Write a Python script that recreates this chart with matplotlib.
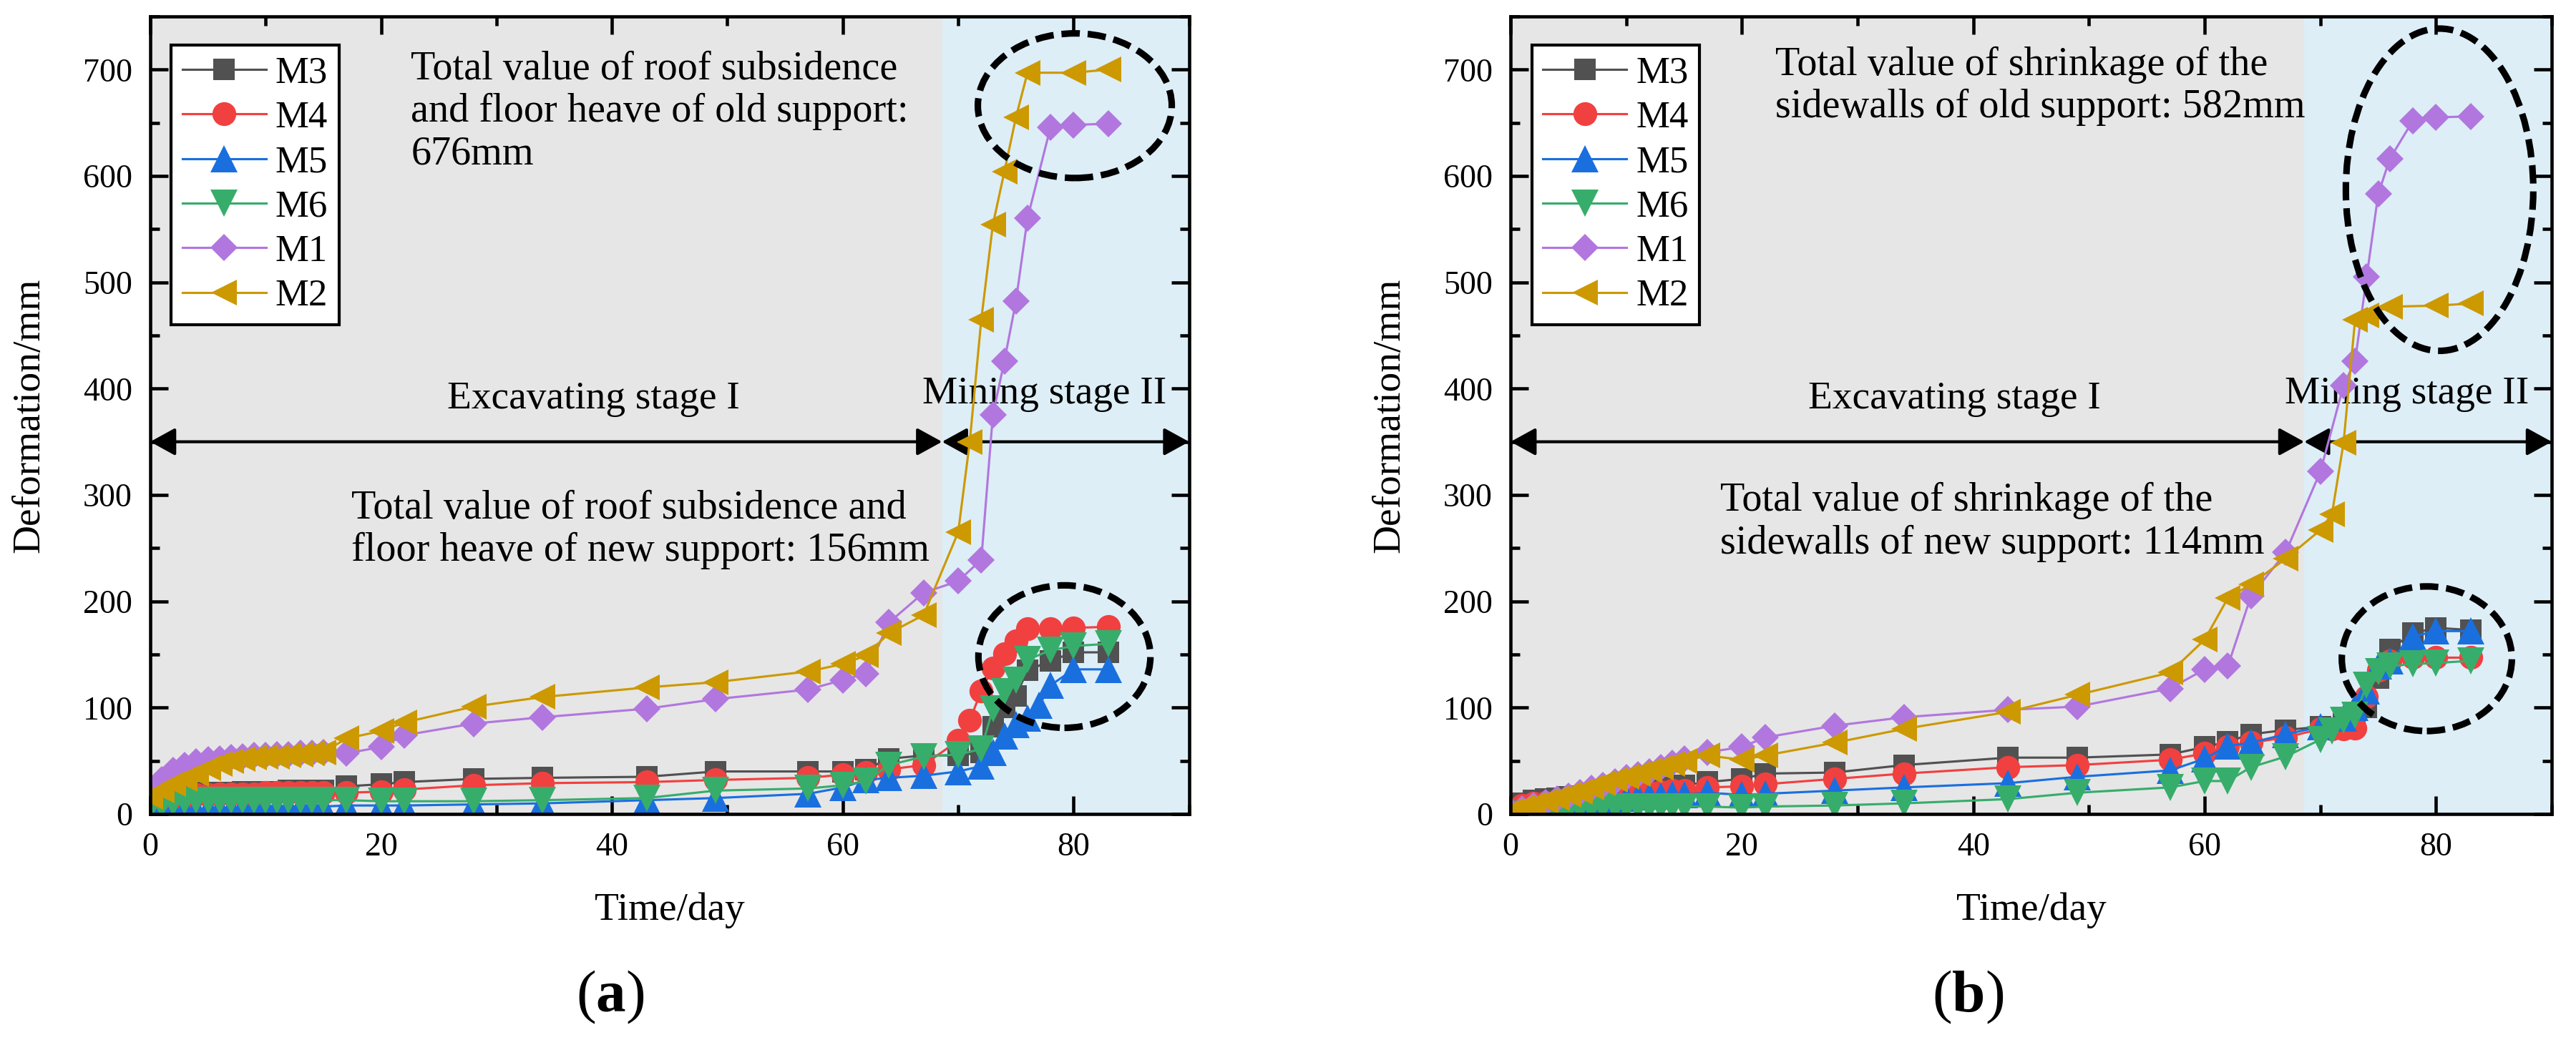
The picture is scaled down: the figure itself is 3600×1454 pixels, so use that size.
import matplotlib
matplotlib.use("Agg")
import matplotlib.pyplot as plt
from matplotlib.patches import Ellipse
from matplotlib.ticker import MultipleLocator

plt.rcParams['font.family'] = ['Liberation Serif', 'DejaVu Serif']
plt.rcParams['mathtext.fontset'] = 'custom'
plt.rcParams['mathtext.rm'] = 'Liberation Serif'
plt.rcParams['mathtext.bf'] = 'Liberation Serif:bold'

# days shared by every measuring point
days_common = [0, 1, 2, 3, 4, 5, 6, 7, 8, 9, 10, 11, 12, 13, 14, 15,
               17, 20, 22, 28, 34, 43, 49, 57, 60, 62, 64, 67, 70]

# ---- (a) roof subsidence + floor heave ----
a_M3 = [12, 17, 18, 19, 19, 20, 20, 20, 21, 21, 21, 21, 22, 22, 22, 22,
        26, 28, 30, 33, 34, 35, 40, 40, 40, 42, 52, 55, 55]
a_M3_late_days = [72, 73, 74, 75, 76, 78, 80, 83]
a_M3_late = [58, 82, 100, 111, 135, 144, 152, 152]

a_M4 = [7, 13, 16, 17, 18, 18, 19, 19, 19, 19, 20, 20, 20, 20, 20, 20,
        20, 21, 23, 27, 29, 30, 32, 34, 37, 39, 42, 46, 69]
a_M4_late_days = [71, 72, 73, 74, 75, 76, 78, 80, 83]
a_M4_late = [88, 116, 137, 151, 163, 174, 174, 175, 176]

a_M5 = [0, 2, 3, 4, 4, 5, 5, 5, 6, 6, 6, 6, 6, 7, 7, 7,
        8, 8, 8, 9, 10, 13, 15, 19, 25, 32, 34, 36, 40]
a_M5_late_days = [72, 73, 74, 75, 76, 77, 78, 80, 83]
a_M5_late = [45, 58, 73, 84, 90, 102, 121, 136, 136]

a_M6 = [7, 9, 11, 12, 13, 13, 13, 13, 13, 13, 13, 13, 13, 13, 13, 13,
        13, 12, 12, 12, 13, 15, 22, 24, 27, 31, 46, 54, 56]
a_M6_late_days = [72, 73, 74, 75, 76, 78, 80, 83]
a_M6_late = [61, 99, 115, 126, 145, 154, 158, 160]

a_M1 = [20, 32, 41, 46, 49, 51, 52, 53, 54, 55, 55, 56, 56, 57, 57, 58,
        57, 63, 74, 85, 91, 99, 108, 117, 126, 132, 180, 208, 219]
a_M1_late_days = [72, 73, 74, 75, 76, 78, 80, 83]
a_M1_late = [239, 375, 426, 482, 560, 646, 648, 649]

a_M2 = [16, 22, 28, 33, 38, 43, 47, 50, 52, 53, 54, 54, 55, 56, 57, 58,
        71, 78, 86, 101, 110, 119, 124, 134, 141, 149, 170, 187, 265]
a_M2_late_days = [71, 72, 73, 74, 75, 76, 80, 83]
a_M2_late = [350, 465, 554, 604, 655, 697, 697, 700]

# ---- (b) shrinkage of the sidewalls ----
b_M3 = [5, 10, 13, 14, 15, 16, 17, 18, 19, 20, 21, 22, 23, 24, 25, 27,
        30, 33, 38, 39, 46, 53, 53, 56, 63, 68, 75, 79, 82]
b_M3_late_days = [72, 73, 74, 75, 76, 78, 80, 83]
b_M3_late = [85, 92, 100, 128, 155, 170, 175, 173]

b_M4 = [4, 8, 10, 11, 12, 13, 14, 15, 16, 17, 18, 19, 20, 21, 22, 22,
        25, 26, 28, 33, 38, 44, 46, 51, 57, 63, 67, 72, 80]
b_M4_late_days = [71, 72, 73, 74, 75, 76, 78, 80, 83]
b_M4_late = [80, 80, 81, 110, 135, 144, 147, 147, 147]

b_M5 = [0, 2, 4, 6, 8, 10, 11, 12, 13, 14, 15, 16, 17, 17, 18, 18,
        20, 18, 19, 22, 25, 29, 35, 41, 52, 64, 67, 75, 82]
b_M5_late_days = [72, 73, 74, 75, 76, 78, 80, 83]
b_M5_late = [90, 100, 116, 139, 144, 167, 172, 172]

b_M6 = [0, 0, 1, 2, 3, 5, 6, 6, 7, 7, 7, 7, 7, 7, 7, 7,
        7, 6, 7, 8, 10, 14, 20, 25, 31, 31, 44, 54, 70]
b_M6_late_days = [71, 72, 73, 74, 75, 76, 78, 80, 83]
b_M6_late = [78, 88, 93, 121, 134, 139, 141, 142, 144]

b_M1 = [3, 5, 8, 11, 14, 17, 20, 24, 27, 30, 34, 37, 40, 44, 48, 52,
        58, 63, 72, 83, 91, 98, 101, 118, 136, 139, 205, 246, 322]
b_M1_late_days = [72, 73, 74, 75, 76, 78, 80, 83]
b_M1_late = [403, 426, 505, 583, 616, 652, 655, 656]

b_M2 = [3, 6, 9, 12, 15, 18, 21, 25, 29, 32, 35, 38, 41, 44, 47, 50,
        55, 51, 55, 67, 80, 96, 112, 133, 164, 203, 216, 240, 267]
b_M2_late_days = [71, 72, 73, 74, 76, 80, 83]
b_M2_late = [282, 349, 465, 469, 477, 478, 480]

names = ["M3", "M4", "M5", "M6", "M1", "M2"]
colors = ["#515151", "#F14040", "#1A6FDF", "#37AD6B", "#B177DE", "#CC9900"]
markers = ["s", "o", "^", "v", "D", "<"]
msizes = [7.3, 8.0, 9.2, 9.2, 6.6, 8.8]

panel_a = [(a_M3, a_M3_late_days, a_M3_late), (a_M4, a_M4_late_days, a_M4_late),
           (a_M5, a_M5_late_days, a_M5_late), (a_M6, a_M6_late_days, a_M6_late),
           (a_M1, a_M1_late_days, a_M1_late), (a_M2, a_M2_late_days, a_M2_late)]
panel_b = [(b_M3, b_M3_late_days, b_M3_late), (b_M4, b_M4_late_days, b_M4_late),
           (b_M5, b_M5_late_days, b_M5_late), (b_M6, b_M6_late_days, b_M6_late),
           (b_M1, b_M1_late_days, b_M1_late), (b_M2, b_M2_late_days, b_M2_late)]

stage_split = 68.6

texts_a = dict(old=(22.6, 718, "Total value of roof subsidence\nand floor heave of old support:\n676mm"),
               new=(17.4, 305, "Total value of roof subsidence and\nfloor heave of new support: 156mm"))
texts_b = dict(old=(22.9, 722, "Total value of shrinkage of the\nsidewalls of old support: 582mm"),
               new=(18.1, 312, "Total value of shrinkage of the\nsidewalls of new support: 114mm"))
ellipses_a = [(80.1, 666, 16.8, 136), (79.2, 148, 14.9, 134)]
ellipses_b = [(80.3, 587, 16.2, 303), (79.2, 146, 14.7, 136)]

fig = plt.figure(figsize=(12, 4.847), dpi=300)
ax_a = fig.add_axes([0.0583, 0.2173, 0.4033, 0.7669])
ax_b = fig.add_axes([0.5864, 0.2173, 0.4042, 0.7669])


def draw_panel(ax, series, texts, ells):
    ax.axvspan(0, stage_split, color="#e6e6e6", zorder=0, lw=0)
    ax.axvspan(stage_split, 90, color="#ddeef7", zorder=0, lw=0)
    for (vals, ldays, lvals), name, c, m, ms in zip(series, names, colors, markers, msizes):
        ax.plot(days_common + ldays, vals + lvals, color=c, marker=m, ms=ms,
                lw=0.75, mew=0, label=name, zorder=3)

    # stage arrows
    for x0, x1 in [(0, stage_split), (stage_split, 90)]:
        ax.annotate("", xy=(x1, 350), xytext=(x0, 350),
                    arrowprops=dict(arrowstyle="<|-|>,head_length=0.4,head_width=0.22",
                                    mutation_scale=18, lw=1.0, color="k",
                                    shrinkA=0, shrinkB=0), zorder=2)
    ax.text(38.4, 390, "Excavating stage I", ha="center", va="center", fontsize=13.3, zorder=1)
    ax.text(77.5, 395, "Mining stage II", ha="center", va="center", fontsize=13.3, zorder=1)
    for key in ["old", "new"]:
        x, y, s = texts[key]
        ax.text(x, y, s, ha="left", va="top", fontsize=13.5, linespacing=1.18, zorder=1)

    for cx, cy, w, h in ells:
        ax.add_patch(Ellipse((cx, cy), w, h, fill=False, ec="k", lw=2.2,
                             ls=(0, (2.8, 1.2)), zorder=5))

    ax.set_xlim(0, 90)
    ax.set_ylim(0, 750)
    ax.xaxis.set_major_locator(MultipleLocator(20))
    ax.xaxis.set_minor_locator(MultipleLocator(10))
    ax.yaxis.set_major_locator(MultipleLocator(100))
    ax.yaxis.set_minor_locator(MultipleLocator(50))
    ax.tick_params(which="both", direction="in", top=True, right=True, width=1.1,
                   labelsize=11, pad=6)
    ax.tick_params(which="major", length=5.9)
    ax.tick_params(which="minor", length=3.2)
    for sp in ax.spines.values():
        sp.set_linewidth(1.1)
        sp.set_zorder(6)
    ax.set_xlabel("Time/day", fontsize=13.3, labelpad=10)
    ax.set_ylabel("Deformation/mm", fontsize=13.3, labelpad=12)
    leg = ax.legend(loc="upper left", bbox_to_anchor=(0.0203, 0.9644), borderaxespad=0,
                    fontsize=12.7, handlelength=2.2, handletextpad=0.25, labelspacing=0.27,
                    borderpad=0.3, fancybox=False, framealpha=1, edgecolor="k")
    leg.get_frame().set_linewidth(1.0)
    leg.set_zorder(7)


draw_panel(ax_a, panel_a, texts_a, ellipses_a)
draw_panel(ax_b, panel_b, texts_b, ellipses_b)

fig.text(0.237, 0.041, r"($\mathbf{a}$)", ha="center", va="center", fontsize=20)
fig.text(0.764, 0.041, r"($\mathbf{b}$)", ha="center", va="center", fontsize=20)

fig.savefig("out.png", dpi=300)
